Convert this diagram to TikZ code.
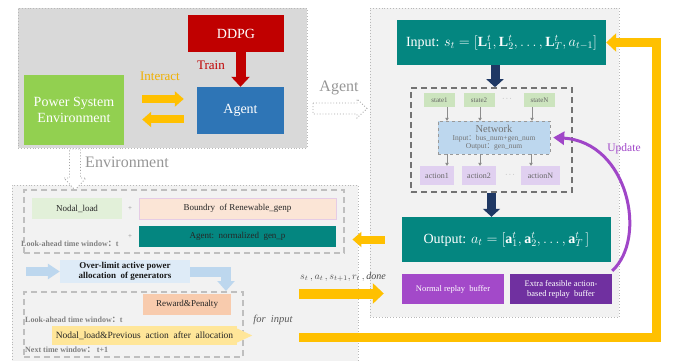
\documentclass[tikz,border=0pt]{standalone}
\usepackage{fontspec}
\setmainfont{Liberation Serif}
\newfontfamily\cjk{Noto Sans CJK SC}
\usetikzlibrary{arrows.meta,calc}
\definecolor{panelgray}{RGB}{217,217,217}
\definecolor{panellight}{RGB}{242,242,242}
\definecolor{ddpgred}{RGB}{192,0,0}
\definecolor{agentblue}{RGB}{46,117,182}
\definecolor{envgreen}{RGB}{146,208,80}
\definecolor{gold}{RGB}{255,192,0}
\definecolor{goldtxt}{RGB}{240,176,0}
\definecolor{tealbox}{RGB}{4,134,128}
\definecolor{navy}{RGB}{31,56,100}
\definecolor{stategreen}{RGB}{204,228,190}
\definecolor{netblue}{RGB}{189,215,238}
\definecolor{actlav}{RGB}{224,208,240}
\definecolor{purpA}{RGB}{163,73,201}
\definecolor{purpB}{RGB}{112,48,160}
\definecolor{updpurple}{RGB}{160,70,200}
\definecolor{lgreen}{RGB}{226,240,217}
\definecolor{peach}{RGB}{251,229,214}
\definecolor{lblue}{RGB}{222,235,247}
\definecolor{midblue}{RGB}{189,215,238}
\definecolor{salmon}{RGB}{248,203,173}
\definecolor{lyellow}{RGB}{255,230,153}
\definecolor{txtgray}{RGB}{150,150,150}
\tikzset{
  panel/.style={draw=black!28, dotted, line width=0.9pt, inner sep=0pt},
  bx/.style={inner sep=1pt, align=center, text=black!85},
  bigtxt/.style={font=\fontsize{14}{16.5}\selectfont},
  tealb/.style={bx, fill=tealbox, text=white, minimum width=209pt, minimum height=45pt, font=\fontsize{14}{16}\selectfont},
  stbox/.style={bx, fill=stategreen, text=black!60, minimum width=31pt, minimum height=14pt, font=\fontsize{7}{8}\selectfont},
  actbox/.style={bx, fill=actlav, text=black!60, minimum width=34pt, minimum height=19pt, font=\fontsize{8}{9}\selectfont},
  bufbox/.style={bx, text=white, minimum width=102pt, minimum height=30pt, font=\fontsize{8.5}{10}\selectfont},
  dbox/.style={draw=black!25, dashed, line width=1.2pt, dash pattern=on 6pt off 4pt, inner sep=0pt},
  ebox/.style={bx, minimum height=21pt, font=\fontsize{9}{10}\selectfont},
  lbl/.style={anchor=west, inner sep=0pt, text=black!50, font=\bfseries\fontsize{8}{9}\selectfont},
  sarr/.style={draw=black!45, line width=0.5pt, -{Triangle[width=3.5pt,length=3pt]}},
  yarrowS/.style={draw=gold, line width=8pt, -{Triangle[width=15pt,length=9pt]}},
  yarrowL/.style={draw=gold, line width=10pt, -{Triangle[width=20pt,length=11pt]}},
  ybig/.style={draw=gold, line width=9pt, -{Triangle[width=18pt,length=10pt]}},
  narrow/.style={draw=navy, line width=9pt, -{Triangle[width=17pt,length=8pt]}},
  rarrow/.style={draw=ddpgred, line width=10pt, -{Triangle[width=18pt,length=10pt]}},
  barrow/.style={draw=midblue, line width=9pt, -{Triangle[width=15pt,length=12pt]}},
  hollow/.style={draw=black!35, dotted, line width=0.9pt, fill=white},
  upd/.style={draw=updpurple, line width=3pt, -{Triangle[width=13pt,length=11pt]}}
}
\begin{document}
\begin{tikzpicture}[x=1pt,y=-1pt]
\useasboundingbox (0,0) rectangle (681,361);
% panels
\node[panel, fill=panelgray, minimum width=289pt, minimum height=140pt] (ptl) at (162.5,78) {};
\node[panel, fill=panellight, minimum width=249pt, minimum height=309pt] (pagent) at (494.5,162.5) {};
\node[panel, fill=panellight, minimum width=346pt, minimum height=178pt] (penv) at (185,274) {};

% top-left panel
\node[bx, bigtxt, fill=ddpgred, text=white, minimum width=96pt, minimum height=37pt] (ddpg) at (236,33.5) {DDPG};
\node[bx, bigtxt, fill=agentblue, text=white, minimum width=87pt, minimum height=47pt] (agent) at (240.5,110.5) {Agent};
\node[bx, bigtxt, fill=envgreen, text=white, minimum width=100pt, minimum height=70pt] (pse) at (74,110) {Power System\\Environment};
\node[text=goldtxt, font=\fontsize{13}{15}\selectfont] (interact) at (160,76) {Interact};
\node[text=ddpgred, font=\fontsize{13}{15}\selectfont] (train) at (211,65) {Train};
\draw[rarrow] (agent.north |- ddpg.south) -- (agent.north);
\draw[yarrowS, shorten <=18pt, shorten >=13pt] ([yshift=11pt]pse.east) -- ([yshift=11pt]pse.east -| agent.west);
\draw[yarrowS, shorten <=13pt, shorten >=18pt] ([yshift=-9.5pt]pse.east -| agent.west) -- ([yshift=-9.5pt]pse.east);

% Agent hollow arrow
\draw[hollow] (313,103) -- (357,103) -- (357,99) -- (367,108.5) -- (357,118) -- (357,114) -- (313,114) -- cycle;
\node[text=txtgray, font=\fontsize{16}{18}\selectfont] (aglbl) at (339,88) {Agent};

% Environment hollow arrow
\draw[hollow] (69.5,149) -- (80.5,149) -- (80.5,178) -- (86,178) -- (75,190) -- (64,178) -- (69.5,178) -- cycle;
\node[text=txtgray, font=\fontsize{16}{18}\selectfont] (envlbl) at (127,162) {Environment};

% right panel
\node[tealb] (input) at (501.5,42.5) {Input: $s_t=[\mathbf{L}^t_1,\mathbf{L}^t_2,\ldots,\mathbf{L}^t_T,a_{t-1}]$};
\node[draw=black!55, line width=1.6pt, dash pattern=on 6pt off 4pt, minimum width=161pt, minimum height=104pt, inner sep=0pt] (netgrp) at (491.5,140) {};
\node[stbox] (s1) at (439.5,100) {state1};
\node[stbox] (s2) at (479,100) {state2};
\node[text=black!50, font=\fontsize{7}{8}\selectfont] (sdots) at (507,99) {$\cdots$};
\node[stbox] (sN) at (539.5,100) {stateN};
\node[bx, fill=netblue, draw=black!40, dashed, text=black!55, minimum width=112pt, minimum height=33pt, font=\fontsize{7.5}{8.3}\selectfont] (net) at (494,137.5)
  {{\fontsize{10.5}{11}\selectfont Network}\\Input{\cjk ：}bus\_num+gen\_num\\Output{\cjk ：}gen\_num};
\node[actbox] (a1) at (437,175.5) {action1};
\node[actbox] (a2) at (479,175.5) {action2};
\node[text=black!50, font=\fontsize{7}{8}\selectfont] (adots) at (510,175) {$\cdots$};
\node[actbox, minimum width=39pt] (aN) at (540.5,175.5) {actionN};
\draw[sarr] ([xshift=7.5pt]s1.south) -- ([xshift=7.5pt]s1.south |- net.north);
\draw[sarr] ([xshift=1pt]s2.south) -- ([xshift=1pt]s2.south |- net.north);
\draw[sarr] ([xshift=-7.5pt]sN.south) -- ([xshift=-7.5pt]sN.south |- net.north);
\draw[sarr] ([xshift=10pt]a1.north |- net.south) -- ([xshift=10pt]a1.north);
\draw[sarr] ([xshift=1pt]a2.north |- net.south) -- ([xshift=1pt]a2.north);
\draw[sarr] ([xshift=-9.5pt]aN.north |- net.south) -- ([xshift=-9.5pt]aN.north);
\node[tealb] (output) at (506.5,239.5) {Output: $a_t=[\mathbf{a}^t_1,\mathbf{a}^t_2,\ldots,\mathbf{a}^t_T\,]$};
\draw[narrow] ([xshift=-6.5pt]input.south) -- ([xshift=-6.5pt]input.south |- netgrp.north);
\draw[narrow] (netgrp.south) -- (netgrp.south |- output.north);
\node[bufbox, fill=purpA] (nrb) at (453,289) {Normal replay\ \ buffer};
\node[bufbox, fill=purpB] (extra) at (561,289) {Extra feasible action-\\based replay\ \ buffer};
\draw[upd] ([yshift=3pt]extra.north east) .. controls (648,238) and (628,142) .. ([xshift=3pt]net.east);
\node[text=updpurple, font=\fontsize{11.5}{13}\selectfont] (updlbl) at (624,149) {Update};

% environment panel
\node[dbox, minimum width=320pt, minimum height=63pt] (tbox) at (184,221.5) {};
\node[ebox, fill=lgreen, minimum width=90pt] (nl) at (77,208.5) {Nodal\_load};
\node[text=black!45, font=\fontsize{7}{8}\selectfont] (plus1) at (130,209) {+};
\node[text=black!45, font=\fontsize{7}{8}\selectfont] (plus2) at (130,237) {+};
\node[ebox, fill=peach, draw=violet!20, minimum width=197pt] (bnd) at (237.5,208.5) {Boundry\ \ of Renewable\_genp};
\node[ebox, fill=tealbox, minimum width=197pt] (agn) at (237.5,236.5) {Agent:\ \ normalized\ \ gen\_p};
\node[lbl] (la1) at (21,244) {Look-ahead time window{\cjk ：}t};

\node[bx, fill=lblue, text=black!90, minimum width=130pt, minimum height=23pt, font=\bfseries\fontsize{9}{10.5}\selectfont] (ol) at (125,271.5) {Over-limit active power\\allocation\ \ of generators};
\coordinate (bstart) at (26,271.5);
\draw[barrow] (bstart) -- (ol.west);
\coordinate (bend) at (226,291);
\draw[barrow, line width=10pt, -{Triangle[width=17pt,length=10pt]}] (ol.east) -| (bend);

\node[dbox, minimum width=219pt, minimum height=65pt] (lbox) at (133.5,324.5) {};
\node[ebox, fill=salmon, minimum width=88pt] (rp) at (187,304.5) {Reward\&Penalty};
\node[lbl] (la2) at (25,320) {Look-ahead time window{\cjk ：}t};
\node[ebox, fill=lyellow, minimum width=185pt, minimum height=19pt, font=\fontsize{9.5}{10}\selectfont] (nlp) at (144.5,335.5) {Nodal\_load\&Previous\ \ action\ \ after\ \ allocation};
\fill[lyellow] (nlp.east) ++(0,-7) -- ++(15,7) -- ++(-15,7) -- cycle;
\node[lbl] (nt) at (25,350) {Next time window{\cjk ：}\ t+1};
\node[text=black!65, font=\itshape\fontsize{10.5}{12}\selectfont] (forin) at (273,320) {for\ \ input};

% yellow connectors
\coordinate (sstart) at (299,293.5);
\draw[yarrowL, shorten >=18pt] (sstart) -- (sstart -| nrb.west);
\node[text=black!70, font=\fontsize{10}{12}\selectfont] (stlbl) at (343,277) {$s_t\,,a_t\,,s_{t+1},r_t\,,\mathit{done}$};
\draw[yarrowS, shorten <=17pt, shorten >=-6pt] (output.west) -- (output.west -| penv.east);
\coordinate (loopstart) at (299,337.5);
\draw[ybig] (loopstart) -- (656,337.5) |- (input.east);
\end{tikzpicture}
\end{document}
